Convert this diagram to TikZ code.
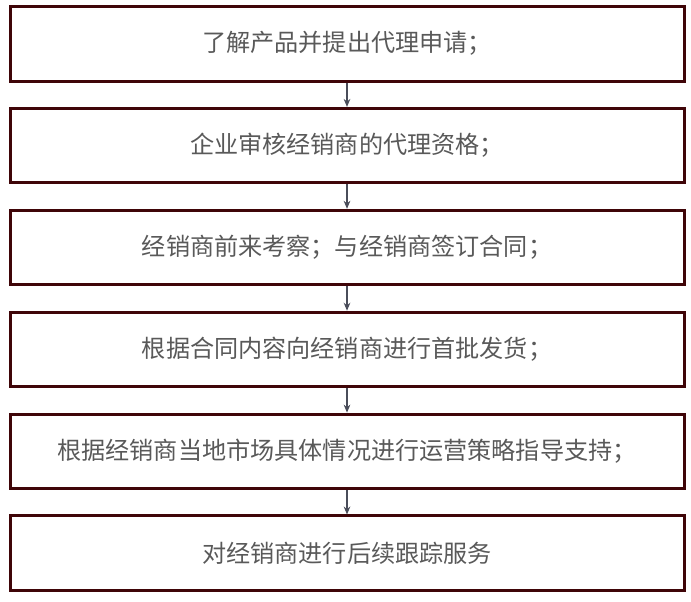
\documentclass[tikz,border=0pt]{standalone}
\usepackage{fontspec}
\newfontfamily\cjk{Noto Sans CJK SC}
\usetikzlibrary{arrows.meta}
\definecolor{boxred}{HTML}{3F0508}
\definecolor{txtgray}{HTML}{595959}
\definecolor{arrgray}{HTML}{4A4D5A}
\tikzset{
  stepbox/.style={draw=boxred, line width=2.25pt, minimum width=505.5pt, minimum height=55.9pt, inner sep=0pt,
    font=\cjk\fontsize{18.1pt}{21pt}\selectfont, text=txtgray},
  flowarrow/.style={draw=arrgray, line width=0.8pt, -{Stealth[length=6pt,width=5pt]}}
}
\begin{document}
\begin{tikzpicture}[x=0.75pt,y=-0.75pt]
\useasboundingbox (0,0) rectangle (691,601);
\node[stepbox] (s1) at (347,43.75) {了解产品并提出代理申请；};
\node[stepbox] (s2) at (347,145.65) {企业审核经销商的代理资格；};
\node[stepbox] (s3) at (347,247.55) {经销商前来考察；与经销商签订合同；};
\node[stepbox] (s4) at (347,349.45) {根据合同内容向经销商进行首批发货；};
\node[stepbox] (s5) at (347,451.35) {根据经销商当地市场具体情况进行运营策略指导支持；};
\node[stepbox] (s6) at (347,553.25) {对经销商进行后续跟踪服务};
\draw[flowarrow] (s1.south) -- (s2.north);
\draw[flowarrow] (s2.south) -- (s3.north);
\draw[flowarrow] (s3.south) -- (s4.north);
\draw[flowarrow] (s4.south) -- (s5.north);
\draw[flowarrow] (s5.south) -- (s6.north);
\end{tikzpicture}
\end{document}
